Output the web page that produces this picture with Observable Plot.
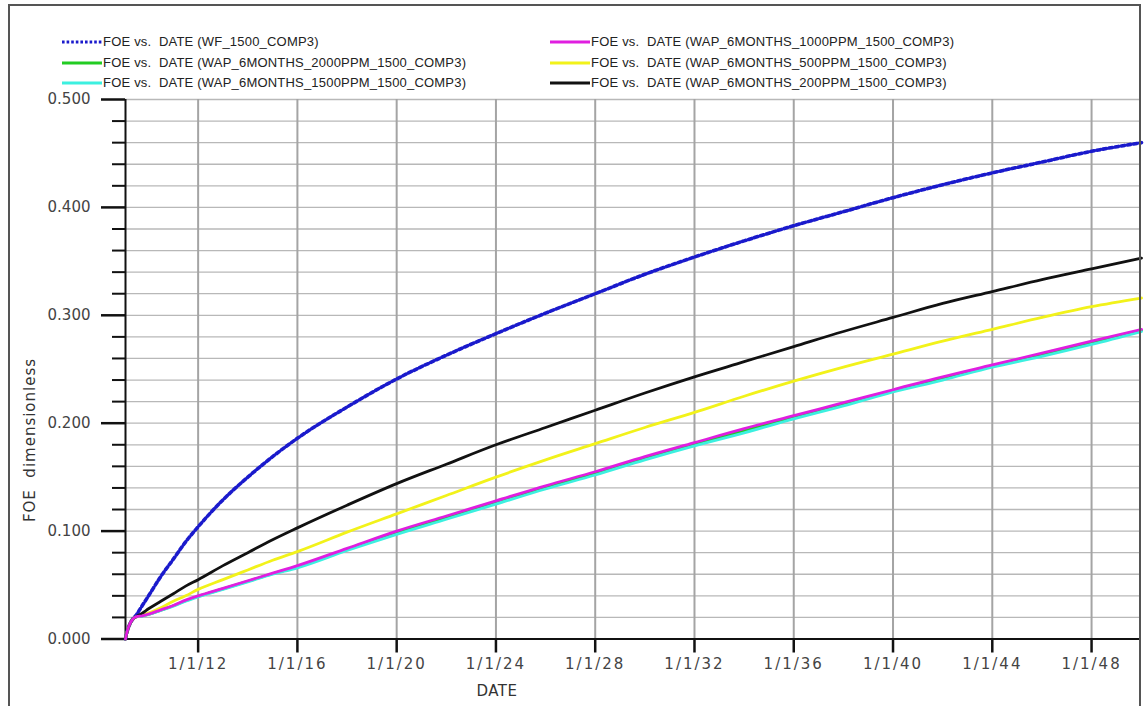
<!DOCTYPE html>
<html><head><meta charset="utf-8">
<script src="https://cdn.jsdelivr.net/npm/d3@7"></script>
<script src="https://cdn.jsdelivr.net/npm/@observablehq/plot@0.6"></script>
<style>
body{margin:0;background:#fff;}
#wrap{position:relative;width:1146px;height:706px;overflow:hidden;font-family:"DejaVu Sans",sans-serif;}
#frame{position:absolute;left:8px;top:4px;width:1133px;height:720px;border:2px solid #555;box-sizing:border-box;pointer-events:none;}
#chart{position:absolute;left:0;top:0;}
.chart [aria-label="x-axis tick label"] text{letter-spacing:2px;}
.leg{position:absolute;font-family:"Liberation Sans",Arial,sans-serif;font-size:13px;letter-spacing:0.2px;color:#222;white-space:pre;line-height:15px;}
.legsw{position:absolute;}
#xlab{position:absolute;left:497px;top:682px;transform:translateX(-50%);font-size:15px;color:#333;letter-spacing:0.5px;}
#ylab{position:absolute;left:30px;top:440px;transform:translate(-50%,-50%) rotate(-90deg);font-size:15px;color:#333;white-space:pre;letter-spacing:1px;}
</style></head>
<body>
<div id="wrap">
  <div id="chart"></div>
  <div id="legend"></div>
  <div id="xlab">DATE</div>
  <div id="ylab">FOE  dimensionless</div>
  <div id="frame"></div>
</div>
<script>
// ---- data ----
const dates = ["2009-01-27","2009-02-25","2009-04-01","2009-05-08","2009-07-01","2009-10-01","2010-01-01","2010-07-01","2011-01-01","2011-07-01","2012-01-01","2013-01-01","2014-01-01","2015-01-01","2016-01-01","2018-01-01","2020-01-01","2022-01-01","2024-01-01","2026-01-01","2028-01-01","2030-01-01","2032-01-01","2034-01-01","2036-01-01","2038-01-01","2040-01-01","2042-01-01","2044-01-01","2046-01-01","2048-01-01","2050-01-05"];
const wf1500 = [0,0.008,0.014,0.018,0.022,0.031,0.040,0.058,0.074,0.090,0.104,0.129,0.150,0.169,0.186,0.215,0.241,0.263,0.283,0.302,0.320,0.338,0.354,0.369,0.383,0.396,0.409,0.421,0.432,0.442,0.452,0.460];
const wap2000 = [0,0.008,0.014,0.018,0.0205,0.0214,0.0228,0.0268,0.0308,0.0355,0.0395,0.0465,0.0535,0.0605,0.067,0.083,0.0985,0.1125,0.1265,0.1405,0.1535,0.1675,0.1805,0.193,0.2055,0.2175,0.230,0.2415,0.253,0.2635,0.2745,0.286];
const wap1500 = [0,0.008,0.014,0.018,0.0205,0.0213,0.0227,0.0265,0.0305,0.035,0.039,0.046,0.053,0.060,0.066,0.082,0.097,0.111,0.125,0.139,0.152,0.166,0.179,0.191,0.204,0.216,0.229,0.240,0.252,0.262,0.273,0.285];
const wap1000 = [0,0.008,0.014,0.018,0.0205,0.0215,0.023,0.027,0.031,0.036,0.040,0.047,0.054,0.061,0.068,0.084,0.100,0.114,0.128,0.142,0.155,0.169,0.182,0.195,0.207,0.219,0.231,0.243,0.254,0.265,0.276,0.287];
const wap500 = [0,0.008,0.014,0.018,0.0205,0.022,0.024,0.029,0.035,0.040,0.046,0.055,0.064,0.073,0.081,0.099,0.116,0.133,0.150,0.166,0.181,0.196,0.210,0.225,0.239,0.252,0.264,0.276,0.287,0.298,0.308,0.316];
const wap200 = [0,0.008,0.014,0.018,0.0205,0.024,0.028,0.035,0.042,0.049,0.055,0.068,0.080,0.092,0.103,0.124,0.144,0.162,0.180,0.196,0.212,0.228,0.243,0.257,0.271,0.285,0.298,0.311,0.322,0.333,0.343,0.353];

const seriesNames = ["FOE vs.  DATE (WF_1500_COMP3)","FOE vs.  DATE (WAP_6MONTHS_2000PPM_1500_COMP3)","FOE vs.  DATE (WAP_6MONTHS_1500PPM_1500_COMP3)","FOE vs.  DATE (WAP_6MONTHS_1000PPM_1500_COMP3)","FOE vs.  DATE (WAP_6MONTHS_500PPM_1500_COMP3)","FOE vs.  DATE (WAP_6MONTHS_200PPM_1500_COMP3)"];
const seriesColors = ["#1a1acc","#22cc22","#3cf0e0","#e01ee0","#f2f21a","#111111"];

const xTicks = ["2012-01-01","2016-01-01","2020-01-01","2024-01-01","2028-01-01","2032-01-01","2036-01-01","2040-01-01","2044-01-01","2048-01-01"];
const yTicks = [0, 0.1, 0.2, 0.3, 0.4, 0.5];
const yMinorTicks = [0.02,0.04,0.06,0.08,0.12,0.14,0.16,0.18,0.22,0.24,0.26,0.28,0.32,0.34,0.36,0.38,0.42,0.44,0.46,0.48];
const xDomain = ["2009-01-27","2050-01-05"];

// ---- build table ----
const values = [wf1500, wap2000, wap1500, wap1000, wap500, wap200];
const rows = [];
values.forEach((arr, s) => arr.forEach((v, i) => rows.push({date: new Date(dates[i]), foe: v, s})));
const bySeries = s => rows.filter(r => r.s === s);
const fmtDate = d => `${d.getUTCMonth()+1}/${d.getUTCDate()}/${String(d.getUTCFullYear()).slice(2)}`;
const xT = xTicks.map(d => new Date(d));
const yGridAll = yTicks.concat(yMinorTicks);

const lineMark = (s, extra={}) => Plot.line(bySeries(s), {x:"date", y:"foe", stroke: seriesColors[s], strokeWidth: 2.8, curve:"monotone-x", ...extra});

const chart = Plot.plot({
  width: 1146, height: 706,
  marginLeft: 125, marginRight: 5, marginTop: 99, marginBottom: 67.5,
  className: "chart",
  style: {fontFamily: "DejaVu Sans, sans-serif", fontSize: "15px", color: "#333", background: "transparent"},
  x: {type: "utc", domain: xDomain.map(d => new Date(d))},
  y: {domain: [0, 0.5]},
  marks: [
    Plot.gridY({ticks: yGridAll, stroke: "#b8b8b8", strokeOpacity: 1, strokeWidth: 1.3}),
    Plot.gridX({ticks: xT, stroke: "#a4a4a4", strokeOpacity: 1, strokeWidth: 2}),
    Plot.axisY({ticks: yMinorTicks, tickSize: 13, tickFormat: () => "", stroke: "#111", strokeWidth: 2, label: null}),
    Plot.axisY({ticks: yTicks, tickSize: 24, tickPadding: 11, tickFormat: d3.format(".3f"), stroke: "#111", strokeWidth: 2.5, fill: "#444", label: null}),
    Plot.axisX({ticks: xT, tickSize: 14, tickPadding: 5, tickFormat: fmtDate, stroke: "#111", strokeWidth: 2.5, fill: "#444", label: null}),
    Plot.ruleY([0], {stroke: "#111", strokeWidth: 2}),
    Plot.ruleX([new Date(xDomain[0])], {stroke: "#111", strokeWidth: 2}),
    lineMark(0, {strokeWidth: 3.6, strokeDasharray: "3.4,2.8", stroke: seriesColors[0]}),
    lineMark(1),
    lineMark(2),
    lineMark(4),
    lineMark(5),
    lineMark(3)
  ]
});
document.getElementById("chart").appendChild(chart);

// ---- legend ----
const leg = document.getElementById("legend");
const legendPos = [[62,42],[62,63],[62,83],[550,42],[550,63],[550,83]];
const legendOrder = [0,1,2,3,4,5];
legendOrder.forEach((s, k) => {
  const [x, y] = legendPos[k];
  const w = 40;
  const sw = document.createElementNS("http://www.w3.org/2000/svg","svg");
  sw.setAttribute("class","legsw");
  sw.setAttribute("width", w); sw.setAttribute("height", 8);
  sw.style.left = x + "px"; sw.style.top = (y - 4) + "px";
  const ln = document.createElementNS("http://www.w3.org/2000/svg","line");
  ln.setAttribute("x1",0); ln.setAttribute("x2",w); ln.setAttribute("y1",4); ln.setAttribute("y2",4);
  ln.setAttribute("stroke", seriesColors[s]);
  ln.setAttribute("stroke-width", 3);
  if (s === 0) ln.setAttribute("stroke-dasharray","2.6,2");
  sw.appendChild(ln);
  leg.appendChild(sw);
  const t = document.createElement("div");
  t.className = "leg";
  t.textContent = seriesNames[s];
  t.style.left = (x + 41) + "px";
  t.style.top = (y - 8) + "px";
  leg.appendChild(t);
});
</script>
</body></html>
